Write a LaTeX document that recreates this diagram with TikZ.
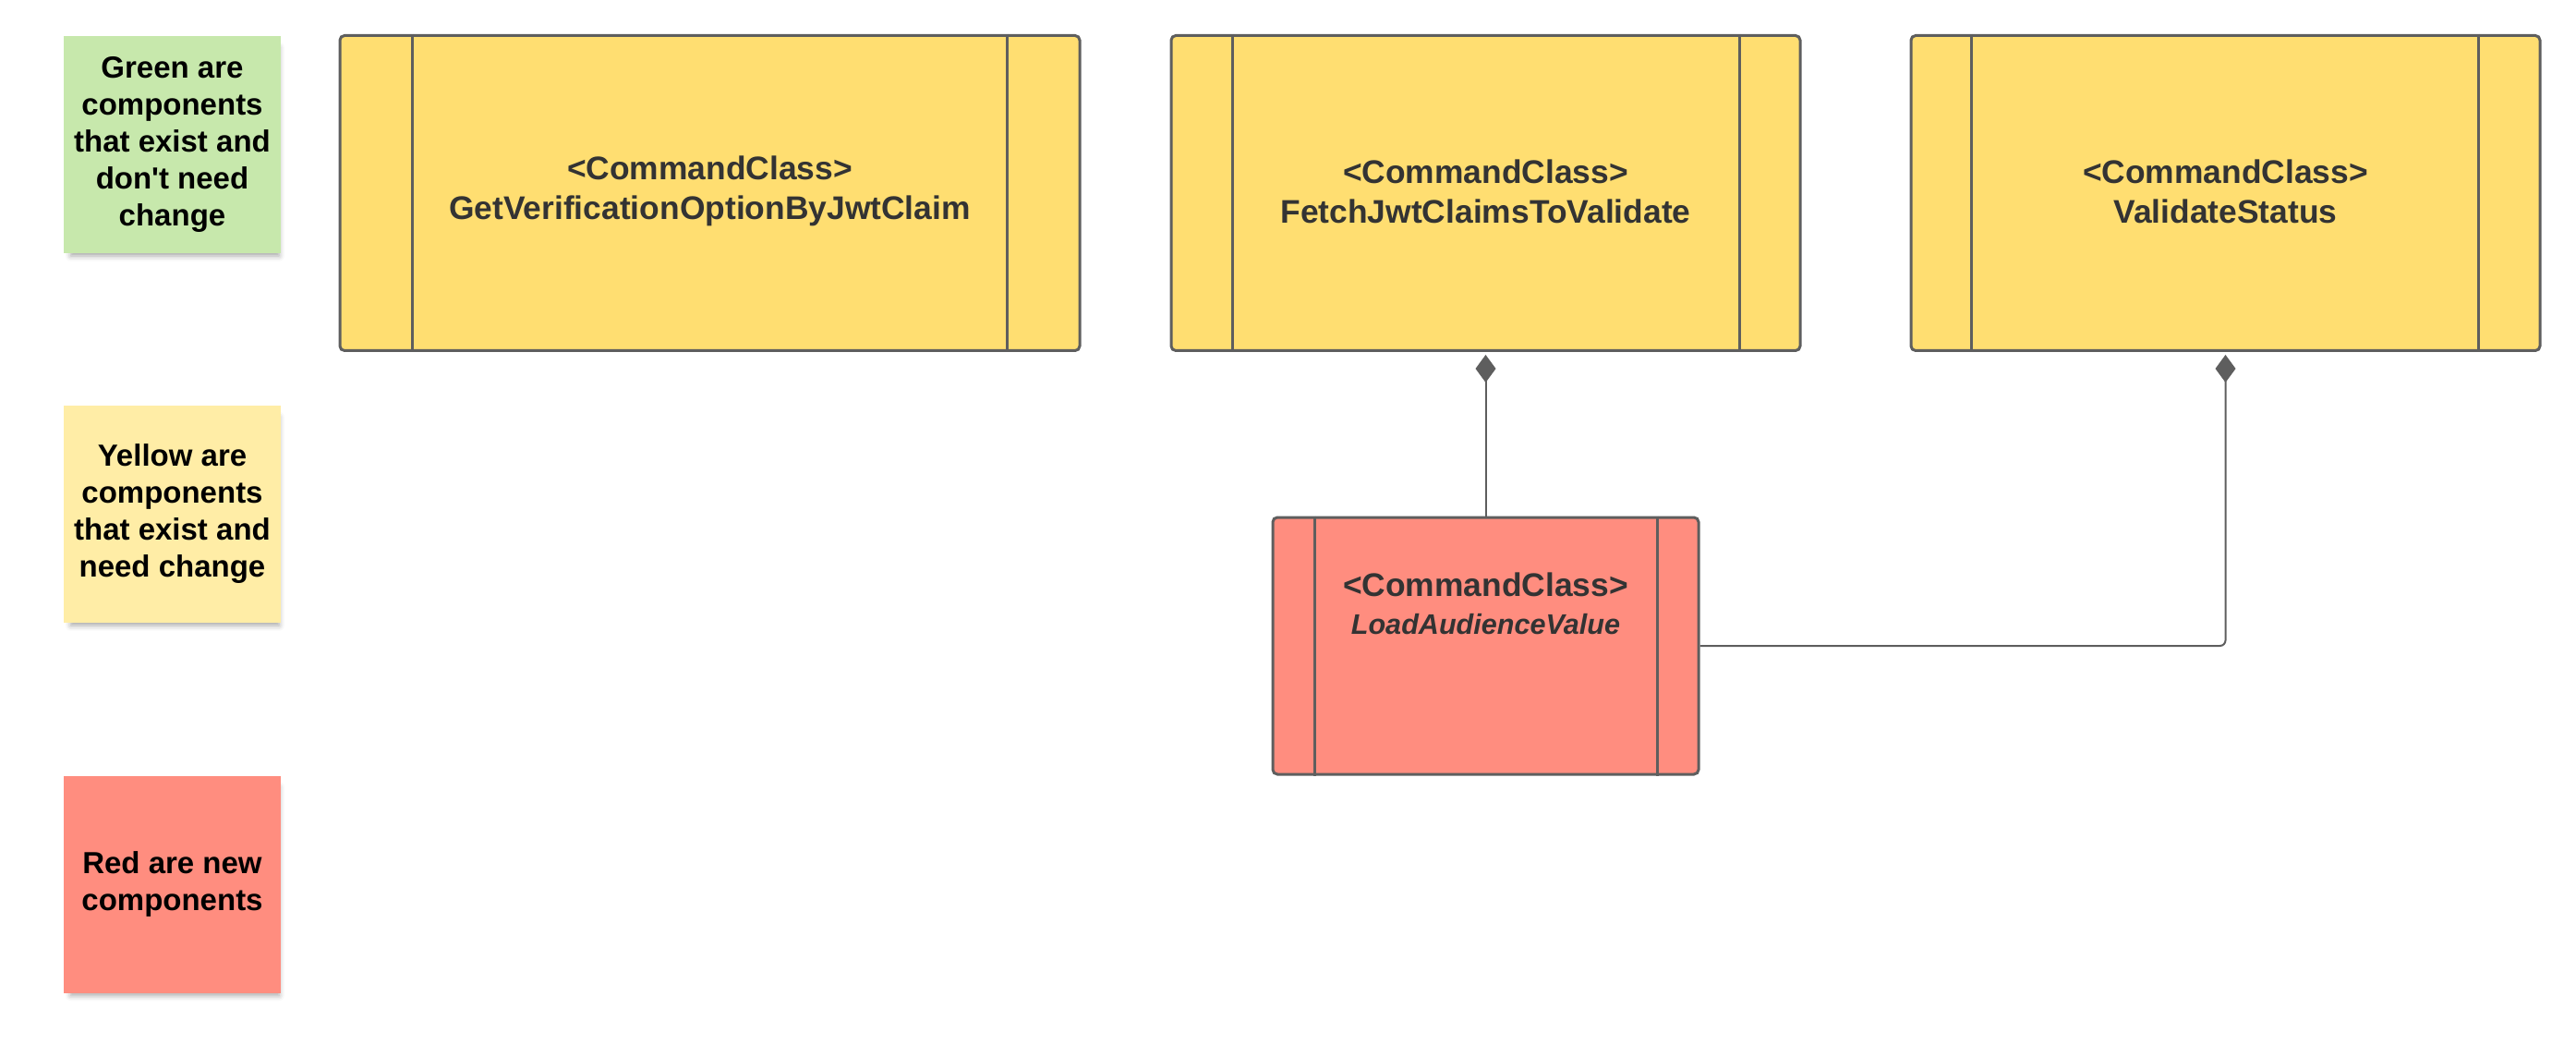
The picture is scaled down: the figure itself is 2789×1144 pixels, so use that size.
\documentclass[tikz,border=0pt]{standalone}
\usepackage{fontspec}
\setmainfont{Liberation Sans}
\usetikzlibrary{arrows.meta,shadows.blur}
\definecolor{yel}{HTML}{FFDE71}
\definecolor{grn}{HTML}{C7E8AC}
\definecolor{ylt}{HTML}{FFEDA6}
\definecolor{rednew}{HTML}{FF8D7F}
\definecolor{edge}{HTML}{5E5E5E}
\definecolor{txt}{HTML}{333333}
\begin{document}
\begin{tikzpicture}[x=0.5pt,y=-0.5pt,
  sticky/.style={minimum width=117.5pt,minimum height=117.5pt,inner sep=0pt,align=center,
    font=\fontsize{16.5}{20}\selectfont\bfseries,
    blur shadow={shadow xshift=1.5pt,shadow yshift=-4pt,shadow blur radius=3pt,shadow opacity=35,shadow scale=0.96}},
  cmd/.style={draw=edge,line width=1.5pt,rounded corners=2.5pt,inner sep=0pt},
  cmdtext/.style={align=center,text=txt,inner sep=0pt,font=\fontsize{17.7}{21.5}\selectfont\bfseries},
  bar/.style={draw=edge,line width=1.5pt},
  conn/.style={draw=edge,line width=1pt},
  comp/.style={-{Diamond[length=15pt,width=11pt,fill=edge]},shorten >=1.5pt}
]
\useasboundingbox (0,0) rectangle (2789,1144);

% legend stickies
\node[sticky,fill=grn] (green) at (186.5,156.5) {Green are\\components\\that exist and\\don\textquotesingle t need\\change};
\node[sticky,fill=ylt] (yellow) at (186.5,556.5) {Yellow are\\components\\that exist and\\need change};
\node[sticky,fill=rednew] (redlg) at (186.5,957) {Red are new\\components};

% command classes
\node[cmd,fill=yel,minimum width=400.5pt,minimum height=170.5pt] (getver) at (768.5,209) {};
\node[cmd,fill=yel,minimum width=340.5pt,minimum height=170.5pt] (fetch) at (1608.5,209) {};
\node[cmd,fill=yel,minimum width=340.5pt,minimum height=170.5pt] (validate) at (2409.5,209) {};
\node[cmd,fill=rednew,minimum width=230.5pt,minimum height=139pt] (load) at (1608.5,699) {};

\node[cmdtext] (getvertxt) at (768.5,207) {<CommandClass>\\GetVerificationOptionByJwtClaim};
\node[cmdtext] (fetchtxt) at (1608.5,207) {<CommandClass>\\FetchJwtClaimsToValidate};
\node[cmdtext] (validatetxt) at (2409.5,207) {<CommandClass>\\ValidateStatus};
\node[cmdtext] (loadtxt) at (1608.5,653)
  {<CommandClass>\\[-1pt]{\fontsize{15.3}{18}\selectfont\itshape LoadAudienceValue}};

% inner bars
\foreach \n/\l/\r in {getver/40pt/40pt,fetch/34pt/33.5pt,validate/33.5pt/34pt,load/23.5pt/23pt}{
  \draw[bar] ([xshift=\l]\n.north west) -- ([xshift=\l]\n.south west);
  \draw[bar] ([xshift=-\r]\n.north east) -- ([xshift=-\r]\n.south east);
}

% connectors
\draw[conn,comp] (load.north) -- (fetch.south);
\draw[conn,comp,rounded corners=3pt] (load.east) -| (validate.south);
\end{tikzpicture}
\end{document}
